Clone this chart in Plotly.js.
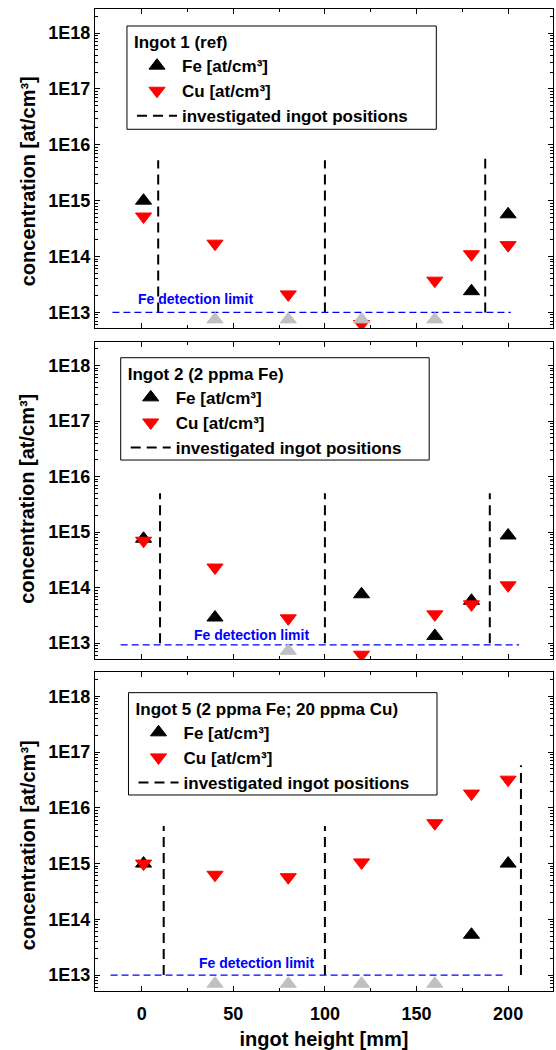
<!DOCTYPE html>
<html>
<head>
<meta charset="utf-8">
<script src="https://cdn.plot.ly/plotly-3.0.1.min.js"></script>
<style>html,body{margin:0;padding:0;background:#fff;}#chart{width:556px;height:1050px;}</style>
</head>
<body>
<div id="chart"></div>
<script>
// ---------- data ----------
const heights = [1, 40, 80, 120, 160, 180, 200];

const ingotTitles = ['Ingot 1 (ref)', 'Ingot 2 (2 ppma Fe)', 'Ingot 5 (2 ppma Fe; 20 ppma Cu)'];

const fe1      = [1.0e15, null, null, null, null, 2.4e13, 5.7e14];
const feBelow1 = [null, 7.5e12, 7.5e12, 7.5e12, 7.5e12, null, null];
const cu1      = [5.2e14, 1.7e14, 2.1e13, 6.2e12, 3.7e13, 1.1e14, 1.6e14];

const fe2      = [7.6e14, 2.9e13, null, 7.6e13, 1.35e13, 5.8e13, 8.7e14];
const feBelow2 = [null, null, 7.3e12, null, null, null, null];
const cu2      = [7.0e14, 2.3e14, 2.8e13, 6.2e12, 3.3e13, 5.0e13, 1.1e14];

const fe5      = [1.0e15, null, null, null, null, 5.3e13, 1.0e15];
const feBelow5 = [null, 7.0e12, 7.0e12, 7.0e12, 7.0e12, null, null];
const cu5      = [1.0e15, 6.3e14, 5.7e14, 1.05e15, 5.3e15, 1.8e16, 3.2e16];

// investigated ingot positions (x) and top of the marker line (y)
const positions1 = [9, 100, 187.5];
const posTop1    = [5.3e15, 5.3e15, 5.6e15];
const positions2 = [10, 100, 190];
const posTop2    = [5.0e15, 5.0e15, 5.0e15];
const positions5 = [12, 100, 207];
const posTop5    = [4.7e15, 4.7e15, 5.8e16];
const posBottom  = 1e13;

// Fe detection limit line
const detX1 = [-16, 201.5];  const detY1 = 1.0e13;
const detX2 = [-11.5, 206];  const detY2 = 9.3e12;
const detX5 = [-17, 198.5];  const detY5 = 1.0e13;

const yTickVals = [1e13, 1e14, 1e15, 1e16, 1e17, 1e18];
const yTickText = ['1E13', '1E14', '1E15', '1E16', '1E17', '1E18'];
const xTickVals = [0, 50, 100, 150, 200];

// ---------- build ----------
const FONT = 'Liberation Sans, Arial, sans-serif';
const panels = [
  {fe: fe1, below: feBelow1, cu: cu1, pos: positions1, top: posTop1, detX: detX1, detY: detY1},
  {fe: fe2, below: feBelow2, cu: cu2, pos: positions2, top: posTop2, detX: detX2, detY: detY2},
  {fe: fe5, below: feBelow5, cu: cu5, pos: positions5, top: posTop5, detX: detX5, detY: detY5}
];

const traces = [];
panels.forEach((p, i) => {
  const n = i + 1;
  const xa = 'x' + (n === 1 ? '' : n), ya = 'y' + (n === 1 ? '' : n);
  const lg = 'legend' + (n === 1 ? '' : n);
  const lx = [], ly = [];
  p.pos.forEach((v, k) => { lx.push(v, v, null); ly.push(posBottom, p.top[k], null); });
  traces.push({x: lx, y: ly, xaxis: xa, yaxis: ya, mode: 'lines', name: 'investigated ingot positions',
    legend: lg, legendrank: 3, line: {color: '#000', width: 2, dash: '10px,6px'}, hoverinfo: 'skip'});
  traces.push({x: p.detX, y: p.detX.map(() => p.detY), xaxis: xa, yaxis: ya, mode: 'lines', showlegend: false,
    line: {color: '#0000ff', width: 1.4, dash: '7px,4px'}, hoverinfo: 'skip'});
  traces.push({x: heights, y: p.fe, xaxis: xa, yaxis: ya, mode: 'markers', name: 'Fe [at/cm³]', legend: lg, legendrank: 1,
    marker: {symbol: 'triangle-up', size: 14, color: '#000', line: {color: '#000', width: 1}}});
  traces.push({x: heights, y: p.cu, xaxis: xa, yaxis: ya, mode: 'markers', name: 'Cu [at/cm³]', legend: lg, legendrank: 2,
    marker: {symbol: 'triangle-down', size: 14, color: '#ff0000', line: {color: '#ff0000', width: 1}}});
  traces.push({x: heights, y: p.below, xaxis: xa, yaxis: ya, mode: 'markers', showlegend: false,
    marker: {symbol: 'triangle-up', size: 14, color: '#c0c0c0', line: {color: '#c0c0c0', width: 1}}});
});

const yMinor = [];
for (let d = 12; d <= 18; d++) for (let m = 2; m <= 9; m++) yMinor.push(m * Math.pow(10, d));

const domains = [[0.6748, 1], [0.3381, 0.6612], [0, 0.3245]];
const tickFont = {family: FONT, size: 18, color: '#000', weight: 'bold'};

const layout = {
  width: 556, height: 1050,
  margin: {l: 95, r: 3, t: 9, b: 59},
  paper_bgcolor: '#fff', plot_bgcolor: '#fff',
  showlegend: true,
  font: {family: FONT, color: '#000'},
  shapes: [], annotations: []
};

const yTitleY = [0.8241, 0.5008, 0.1479];
const legendBox = [
  {x0: 0.0698, x1: 0.7452, y0: 0.8775, y1: 0.9827},
  {x0: 0.0561, x1: 0.7297, y0: 0.5407, y1: 0.6449},
  {x0: 0.0731, x1: 0.7467, y0: 0.1996, y1: 0.3038}
];
const detLabel = [{x: 29.6, y: 13.24}, {x: 59.8, y: 13.15}, {x: 62.7, y: 13.21}];

for (let i = 0; i < 3; i++) {
  const n = i + 1, s = n === 1 ? '' : n;
  layout['xaxis' + s] = {
    domain: [0, 1], anchor: 'y' + s, range: [-25.5, 224.5],
    tickmode: 'array', tickvals: xTickVals, showticklabels: n === 3,
    ticks: 'inside', ticklen: 5, tickwidth: 1, tickcolor: '#000',
    minor: {tickmode: 'linear', tick0: 0, dtick: 25, ticks: 'inside', ticklen: 3, tickcolor: '#000', showgrid: false},
    showline: true, linecolor: '#000', linewidth: 1, mirror: 'allticks',
    showgrid: false, zeroline: false, tickfont: tickFont, ticklabelstandoff: 6
  };
  if (n === 3) {
    layout['xaxis' + s].title = {text: 'ingot height [mm]', font: {family: FONT, size: 20, color: '#000', weight: 'bold'}, standoff: 10};
  }
  layout['yaxis' + s] = {
    domain: domains[i], anchor: 'x' + s, type: 'log', range: [12.715, 18.43],
    tickmode: 'array', tickvals: yTickVals, ticktext: yTickText,
    ticks: 'inside', ticklen: 5, tickwidth: 1, tickcolor: '#000',
    minor: {tickmode: 'array', tickvals: yMinor, ticks: 'inside', ticklen: 3, tickcolor: '#000', showgrid: false},
    showline: true, linecolor: '#000', linewidth: 1, mirror: 'allticks',
    showgrid: false, zeroline: false, tickfont: tickFont
  };
  layout['legend' + s] = {
    x: legendBox[i].x0 + 0.011, y: legendBox[i].y1, xref: 'paper', yref: 'paper', xanchor: 'left', yanchor: 'top',
    bgcolor: 'rgba(0,0,0,0)', borderwidth: 0, itemwidth: 40, tracegroupgap: 0,
    font: {family: FONT, size: 17, color: '#000', weight: 'bold'},
    title: {text: ingotTitles[i], font: {family: FONT, size: 17, color: '#000', weight: 'bold'}}
  };
  layout.shapes.push({type: 'rect', xref: 'paper', yref: 'paper', x0: legendBox[i].x0, x1: legendBox[i].x1,
    y0: legendBox[i].y0, y1: legendBox[i].y1, line: {color: '#000', width: 1}, fillcolor: 'rgba(0,0,0,0)'});
  layout.annotations.push({xref: 'paper', yref: 'paper', x: -0.1473, y: yTitleY[i], text: 'concentration [at/cm³]',
    textangle: -90, showarrow: false, xanchor: 'center', yanchor: 'middle',
    font: {family: FONT, size: 20, color: '#000', weight: 'bold'}});
  layout.annotations.push({xref: 'x' + s, yref: 'y' + s, x: detLabel[i].x, y: detLabel[i].y, text: 'Fe detection limit',
    showarrow: false, xanchor: 'center', yanchor: 'middle',
    font: {family: FONT, size: 14, color: '#0000ff', weight: 'bold'}});
}

Plotly.newPlot('chart', traces, layout, {displayModeBar: false, staticPlot: true});
</script>
</body>
</html>
